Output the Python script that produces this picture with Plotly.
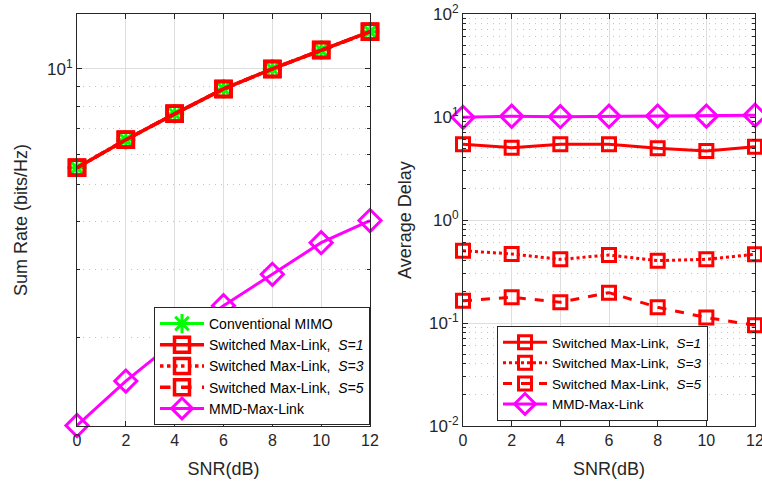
import plotly.graph_objects as go

snr = [0, 2, 4, 6, 8, 10, 12]

# Left: Sum Rate (bits/Hz)
rate_conv = [5.53, 6.54, 7.64, 8.87, 10.0, 11.2, 12.5]
rate_s1 = [5.53, 6.54, 7.64, 8.87, 10.0, 11.2, 12.5]
rate_s3 = [5.53, 6.54, 7.64, 8.87, 10.0, 11.2, 12.5]
rate_s5 = [5.53, 6.54, 7.64, 8.87, 10.0, 11.2, 12.5]
rate_mmd = [1.18, 1.54, 1.95, 2.42, 2.92, 3.53, 4.03]

# Right: Average Delay
delay_s1 = [5.43, 5.04, 5.43, 5.43, 4.97, 4.68, 5.15]
delay_s3 = [0.503, 0.468, 0.415, 0.457, 0.403, 0.415, 0.465]
delay_s5 = [0.164, 0.178, 0.159, 0.197, 0.142, 0.113, 0.095]
delay_mmd = [9.93, 10.16, 10.07, 10.16, 10.2, 10.2, 10.4]

names = ["Conventional MIMO",
         "Switched Max-Link,  <i>S=1</i>",
         "Switched Max-Link,  <i>S=3</i>",
         "Switched Max-Link,  <i>S=5</i>",
         "MMD-Max-Link"]

GREEN = "#00ff00"
RED = "#ff0000"
MAG = "#ff00ff"
AX = "#262626"

fig = go.Figure()

# ---- left traces
fig.add_trace(go.Scatter(x=snr, y=rate_conv, name=names[0], mode="lines+markers",
                         line=dict(color=GREEN, width=3),
                         marker=dict(symbol="asterisk-open", size=16, line=dict(color=GREEN, width=3)),
                         xaxis="x", yaxis="y", legend="legend", cliponaxis=False))
for vals, nm, dash in [(rate_s1, names[1], "solid"), (rate_s3, names[2], "dot"), (rate_s5, names[3], "dash")]:
    fig.add_trace(go.Scatter(x=snr, y=vals, name=nm, mode="lines+markers",
                             line=dict(color=RED, width=3.5, dash=dash),
                             marker=dict(symbol="square-open", size=15, line=dict(color=RED, width=3.5)),
                             xaxis="x", yaxis="y", legend="legend", cliponaxis=False))
fig.add_trace(go.Scatter(x=snr, y=rate_mmd, name=names[4], mode="lines+markers",
                         line=dict(color=MAG, width=3),
                         marker=dict(symbol="diamond-open", size=17, line=dict(color=MAG, width=3)),
                         xaxis="x", yaxis="y", legend="legend", cliponaxis=False))

# ---- right traces
for vals, nm, dash in [(delay_s1, names[1], "solid"), (delay_s3, names[2], "dot"), (delay_s5, names[3], "dash")]:
    fig.add_trace(go.Scatter(x=snr, y=vals, name=nm, mode="lines+markers",
                             line=dict(color=RED, width=3, dash=dash),
                             marker=dict(symbol="square-open", size=13, line=dict(color=RED, width=3)),
                             xaxis="x2", yaxis="y2", legend="legend2", cliponaxis=False))
fig.add_trace(go.Scatter(x=snr, y=delay_mmd, name=names[4], mode="lines+markers",
                         line=dict(color=MAG, width=3),
                         marker=dict(symbol="diamond-open", size=17, line=dict(color=MAG, width=3)),
                         xaxis="x2", yaxis="y2", legend="legend2", cliponaxis=False))

W, H = 762, 492
L1, R1 = 77 / W, 370 / W
L2, R2 = 463 / W, 755 / W
B, T = (H - 426) / H, (H - 14) / H

font = dict(family="Liberation Sans, Arial, sans-serif", color=AX)
major_grid = "#dedede"
minor_grid = "#c4c4c4"

def xax(domain, anchor):
    return dict(domain=domain, anchor=anchor, range=[0, 12], tickvals=snr,
                ticks="inside", ticklen=5, tickcolor=AX, showline=True, linecolor=AX,
                linewidth=1, mirror="ticks", showgrid=True, gridcolor=major_grid, gridwidth=1,
                zeroline=False, tickfont=dict(size=16, color=AX), automargin=False,
                ticklabeloverflow="allow",
                title=dict(text="SNR(dB)", font=dict(size=18, color=AX), standoff=14))

left_minor = [2, 3, 4, 5, 6, 7, 8, 9]
right_minor = [m * d for d in [0.01, 0.1, 1, 10] for m in [2, 3, 4, 5, 6, 7, 8, 9]]
right_major = [0.01, 0.1, 1, 10, 100]
right_major_txt = ["10<sup>-2</sup>", "10<sup>-1</sup>", "10<sup>0</sup>", "10<sup>1</sup>", "10<sup>2</sup>"]

fig.update_layout(
    width=W, height=H, margin=dict(l=0, r=0, t=0, b=0),
    paper_bgcolor="white", plot_bgcolor="white", font=font,
    xaxis=xax([L1, R1], "y"),
    xaxis2=xax([L2, R2], "y2"),
    yaxis=dict(domain=[B, T], anchor="x", type="log", range=[0.0705, 1.143],
               tickvals=[10], ticktext=["10<sup>1</sup>"], automargin=False,
               ticks="inside", ticklen=5, tickcolor=AX, showline=True, linecolor=AX, linewidth=1,
               mirror="ticks", showgrid=True, gridcolor=major_grid, zeroline=False,
               tickfont=dict(size=17, color=AX),
               minor=dict(tickvals=left_minor, ticks="inside", ticklen=3, tickcolor=AX,
                          showgrid=True, gridcolor=minor_grid, griddash="1px,5px", gridwidth=1),
               title=dict(text="Sum Rate (bits/Hz)", font=dict(size=18, color=AX), standoff=14)),
    yaxis2=dict(domain=[B, T], anchor="x2", type="log", range=[-2, 2],
                tickvals=right_major, ticktext=right_major_txt, automargin=False,
                ticks="inside", ticklen=5, tickcolor=AX, showline=True, linecolor=AX, linewidth=1,
                mirror="ticks", showgrid=True, gridcolor=major_grid, zeroline=False,
                tickfont=dict(size=17, color=AX),
                minor=dict(tickvals=right_minor, ticks="inside", ticklen=3, tickcolor=AX,
                           showgrid=True, gridcolor=minor_grid, griddash="1px,5px", gridwidth=1),
                title=dict(text="Average Delay", font=dict(size=18, color=AX), standoff=12)),
    legend=dict(x=R1, xanchor="right", y=(H - 425) / H, yanchor="bottom",
                bgcolor="white", bordercolor=AX, borderwidth=1,
                font=dict(size=14, color="black"), tracegroupgap=0, itemwidth=44),
    legend2=dict(x=497 / W, xanchor="left", y=(H - 421) / H, yanchor="bottom",
                 bgcolor="white", bordercolor=AX, borderwidth=1,
                 font=dict(size=13.5, color="black"), tracegroupgap=0, itemwidth=44),
    showlegend=True,
)

fig.write_html("out.html")
